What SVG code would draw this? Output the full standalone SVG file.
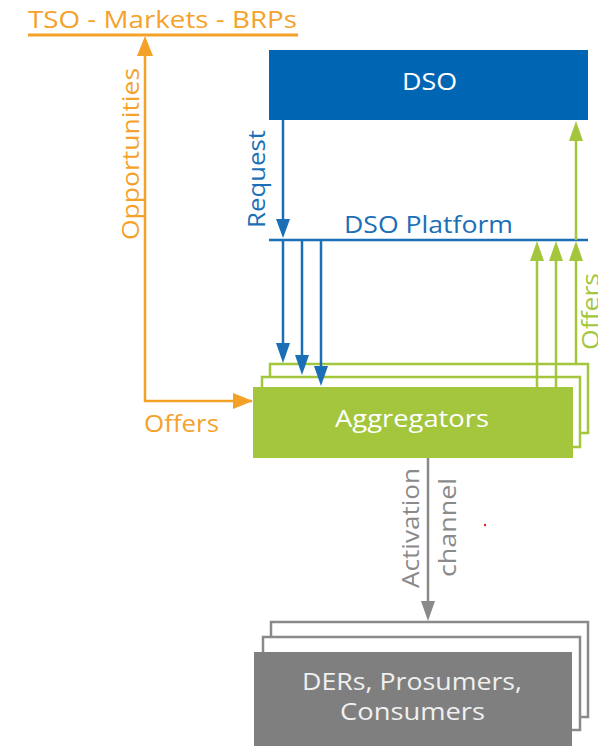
<svg xmlns="http://www.w3.org/2000/svg" width="598" height="746" viewBox="0 0 598 746">
<style>
text{font-family:"Open Sans","Liberation Sans",sans-serif;font-size:24px}
.or{fill:#f5a22c}.bl{fill:#1b6fb7}.gr{fill:#a3c63d}.gy{fill:#8a8a8a}.wh{fill:#ffffff}
.lo{stroke:#f4a128;stroke-width:2.5;fill:none}
.lb{stroke:#1b6fb7;stroke-width:2.5;fill:none}
.lg{stroke:#a3c63d;stroke-width:2.5;fill:none}
.ly{stroke:#8a8a8a;stroke-width:2.5;fill:none}
</style>
<rect width="598" height="746" fill="#ffffff"/>
<g id="tso">
<text class="or" x="28" y="28" textLength="269" lengthAdjust="spacingAndGlyphs">TSO - Markets - BRPs</text>
<line x1="28" y1="35" x2="298" y2="35" stroke="#f4a128" stroke-width="3"/>
</g>
<g id="dso">
<rect x="269" y="50" width="319" height="70" fill="#0066b3"/>
<text class="wh" x="402" y="90" textLength="55" lengthAdjust="spacingAndGlyphs">DSO</text>
</g>
<g id="platform">
<line x1="269" y1="240" x2="588" y2="240" stroke="#1b6fb7" stroke-width="2.5"/>
<text class="bl" x="344" y="233" textLength="169" lengthAdjust="spacingAndGlyphs">DSO Platform</text>
</g>
<g id="aggregators">
<rect x="270" y="364" width="318" height="69" fill="#fff" stroke="#a3c63d" stroke-width="2.5"/>
<rect x="262" y="377" width="318" height="70" fill="#fff" stroke="#a3c63d" stroke-width="2.5"/>
<rect x="253" y="387" width="320" height="71" fill="#a3c63d"/>
<text class="wh" x="335" y="427" textLength="154" lengthAdjust="spacingAndGlyphs">Aggregators</text>
</g>
<g id="ders">
<rect x="271" y="622" width="317" height="95" fill="#fff" stroke="#8a8a8a" stroke-width="2.5"/>
<rect x="263" y="637" width="317" height="93" fill="#fff" stroke="#8a8a8a" stroke-width="2.5"/>
<rect x="254" y="652" width="318" height="100" fill="#7f7f7f"/>
<text fill="#f0f0f0" x="302" y="690" textLength="220" lengthAdjust="spacingAndGlyphs">DERs, Prosumers,</text>
<text fill="#f0f0f0" x="340" y="720" textLength="145" lengthAdjust="spacingAndGlyphs">Consumers</text>
</g>
<g id="connectors">
<path class="lo" d="M252,401 H145 V55"/>
<path d="M145,36 L137,56 L153,56z" fill="#f4a128"/>
<path d="M253,401 L233,393 L233,409z" fill="#f4a128"/>
<line class="lb" x1="283" y1="120" x2="283" y2="220"/>
<path d="M283,238 L276,219 L290,219z" fill="#1b6fb7"/>
<line class="lb" x1="283" y1="240" x2="283" y2="345"/>
<path d="M283,363 L276,343 L290,343z" fill="#1b6fb7"/>
<line class="lb" x1="302" y1="240" x2="302" y2="357"/>
<path d="M302,375 L295,355 L309,355z" fill="#1b6fb7"/>
<line class="lb" x1="321" y1="240" x2="321" y2="367"/>
<path d="M321,386 L314,366 L328,366z" fill="#1b6fb7"/>
<line class="lg" x1="537" y1="387" x2="537" y2="258"/>
<path d="M537,241 L530,261 L544,261z" fill="#a3c63d"/>
<line class="lg" x1="556" y1="387" x2="556" y2="258"/>
<path d="M556,241 L549,261 L563,261z" fill="#a3c63d"/>
<line class="lg" x1="576" y1="364" x2="576" y2="258"/>
<path d="M576,241 L569,261 L583,261z" fill="#a3c63d"/>
<line class="lg" x1="576" y1="240" x2="576" y2="138"/>
<path d="M576,121 L569,141 L583,141z" fill="#a3c63d"/>
<line class="ly" x1="428" y1="458" x2="428" y2="602"/>
<path d="M428,621 L421,601 L435,601z" fill="#8a8a8a"/>
</g>
<g id="labels">
<text class="or" transform="translate(139,240) rotate(-90)" textLength="172" lengthAdjust="spacingAndGlyphs">Opportunities</text>
<text class="or" x="144" y="432" textLength="75" lengthAdjust="spacingAndGlyphs">Offers</text>
<text class="bl" transform="translate(265,228) rotate(-90)" textLength="98" lengthAdjust="spacingAndGlyphs">Request</text>
<text class="gr" transform="translate(599,350) rotate(-90)" textLength="77" lengthAdjust="spacingAndGlyphs">Offers</text>
<text class="gy" transform="translate(419,588) rotate(-90)" textLength="120" lengthAdjust="spacingAndGlyphs">Activation</text>
<text class="gy" transform="translate(456,577) rotate(-90)" textLength="99" lengthAdjust="spacingAndGlyphs">channel</text>
</g>
<circle cx="485" cy="525" r="1.2" fill="#e02020"/>
</svg>
